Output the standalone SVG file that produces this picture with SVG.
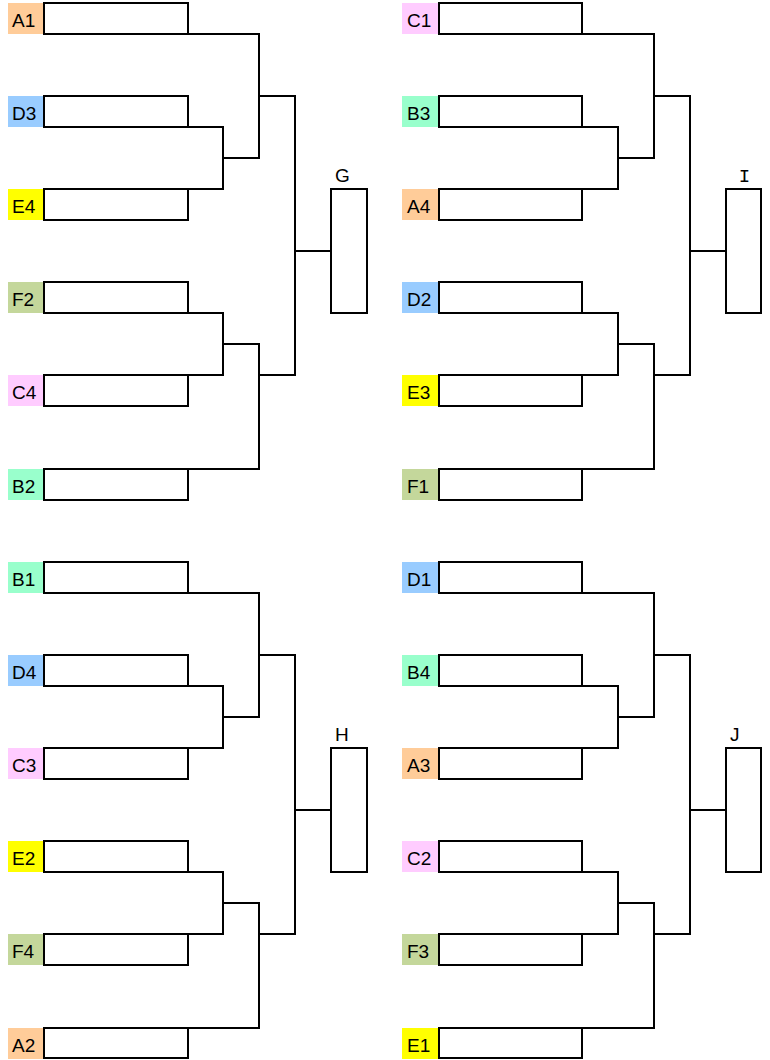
<svg xmlns="http://www.w3.org/2000/svg" width="770" height="1060" viewBox="0 0 770 1060">
<style>
.bg{fill:#fff}
.lbl{font-family:"Liberation Sans",Arial,sans-serif;font-size:19px;fill:#000}
.slot{fill:#fff;stroke:#000;stroke-width:2}
.c{fill:none;stroke:#000;stroke-width:2}
.A{fill:#FFCC99}.B{fill:#99FFCC}.C{fill:#FFCCFF}.D{fill:#99CCFF}.E{fill:#FFFF00}.F{fill:#C4D79B}
</style>
<defs>
<g id="conn">
<path class="c" d="M188,34 H259 V158 H223"/>
<path class="c" d="M188,127 H223 V189 H188"/>
<path class="c" d="M259,96 H295 V375 H259"/>
<path class="c" d="M188,313 H223 V375 H188"/>
<path class="c" d="M223,344 H259 V469 H188"/>
<path class="c" d="M295,251 H331"/>
</g>
</defs>
<rect class="bg" x="0" y="0" width="770" height="1060"/>

<g id="connectors">
<use href="#conn"/>
<use href="#conn" transform="translate(395,0)"/>
<use href="#conn" transform="translate(0,559)"/>
<use href="#conn" transform="translate(395,559)"/>
</g>

<!-- top-left -->
<g id="A1" transform="translate(0,3)"><rect class="A" x="8" y="0" width="35" height="31"/><rect class="slot" x="44" y="0" width="144" height="31"/><text class="lbl" x="12" y="24">A1</text></g>
<g id="D3" transform="translate(0,96)"><rect class="D" x="8" y="0" width="35" height="31"/><rect class="slot" x="44" y="0" width="144" height="31"/><text class="lbl" x="12" y="24">D3</text></g>
<g id="E4" transform="translate(0,189)"><rect class="E" x="8" y="0" width="35" height="31"/><rect class="slot" x="44" y="0" width="144" height="31"/><text class="lbl" x="12" y="24">E4</text></g>
<g id="F2" transform="translate(0,282)"><rect class="F" x="8" y="0" width="35" height="31"/><rect class="slot" x="44" y="0" width="144" height="31"/><text class="lbl" x="12" y="24">F2</text></g>
<g id="C4" transform="translate(0,375)"><rect class="C" x="8" y="0" width="35" height="31"/><rect class="slot" x="44" y="0" width="144" height="31"/><text class="lbl" x="12" y="24">C4</text></g>
<g id="B2" transform="translate(0,469)"><rect class="B" x="8" y="0" width="35" height="31"/><rect class="slot" x="44" y="0" width="144" height="31"/><text class="lbl" x="12" y="24">B2</text></g>
<g id="G"><rect class="slot" x="331" y="189" width="36" height="124"/><text class="lbl" x="335" y="182">G</text></g>

<!-- top-right -->
<g id="C1" transform="translate(395,3)"><rect class="C" x="7" y="0" width="36" height="31"/><rect class="slot" x="44" y="0" width="143" height="31"/><text class="lbl" x="12" y="24">C1</text></g>
<g id="B3" transform="translate(395,96)"><rect class="B" x="7" y="0" width="36" height="31"/><rect class="slot" x="44" y="0" width="143" height="31"/><text class="lbl" x="12" y="24">B3</text></g>
<g id="A4" transform="translate(395,189)"><rect class="A" x="7" y="0" width="36" height="31"/><rect class="slot" x="44" y="0" width="143" height="31"/><text class="lbl" x="12" y="24">A4</text></g>
<g id="D2" transform="translate(395,282)"><rect class="D" x="7" y="0" width="36" height="31"/><rect class="slot" x="44" y="0" width="143" height="31"/><text class="lbl" x="12" y="24">D2</text></g>
<g id="E3" transform="translate(395,375)"><rect class="E" x="7" y="0" width="36" height="31"/><rect class="slot" x="44" y="0" width="143" height="31"/><text class="lbl" x="12" y="24">E3</text></g>
<g id="F1" transform="translate(395,469)"><rect class="F" x="7" y="0" width="36" height="31"/><rect class="slot" x="44" y="0" width="143" height="31"/><text class="lbl" x="12" y="24">F1</text></g>
<g id="I"><rect class="slot" x="726" y="189" width="35" height="124"/><text x="744.5" y="182" text-anchor="middle" style="font-family:'Liberation Mono',monospace;font-size:19px">I</text></g>

<!-- bottom-left -->
<g id="B1" transform="translate(0,562)"><rect class="B" x="8" y="0" width="35" height="31"/><rect class="slot" x="44" y="0" width="144" height="31"/><text class="lbl" x="12" y="24">B1</text></g>
<g id="D4" transform="translate(0,655)"><rect class="D" x="8" y="0" width="35" height="31"/><rect class="slot" x="44" y="0" width="144" height="31"/><text class="lbl" x="12" y="24">D4</text></g>
<g id="C3" transform="translate(0,748)"><rect class="C" x="8" y="0" width="35" height="31"/><rect class="slot" x="44" y="0" width="144" height="31"/><text class="lbl" x="12" y="24">C3</text></g>
<g id="E2" transform="translate(0,841)"><rect class="E" x="8" y="0" width="35" height="31"/><rect class="slot" x="44" y="0" width="144" height="31"/><text class="lbl" x="12" y="24">E2</text></g>
<g id="F4" transform="translate(0,934)"><rect class="F" x="8" y="0" width="35" height="31"/><rect class="slot" x="44" y="0" width="144" height="31"/><text class="lbl" x="12" y="24">F4</text></g>
<g id="A2" transform="translate(0,1028)"><rect class="A" x="8" y="0" width="35" height="31"/><rect class="slot" x="44" y="0" width="144" height="30"/><text class="lbl" x="12" y="24">A2</text></g>
<g id="H"><rect class="slot" x="331" y="748" width="36" height="124"/><text class="lbl" x="335" y="741">H</text></g>

<!-- bottom-right -->
<g id="D1" transform="translate(395,562)"><rect class="D" x="7" y="0" width="36" height="31"/><rect class="slot" x="44" y="0" width="143" height="31"/><text class="lbl" x="12" y="24">D1</text></g>
<g id="B4" transform="translate(395,655)"><rect class="B" x="7" y="0" width="36" height="31"/><rect class="slot" x="44" y="0" width="143" height="31"/><text class="lbl" x="12" y="24">B4</text></g>
<g id="A3" transform="translate(395,748)"><rect class="A" x="7" y="0" width="36" height="31"/><rect class="slot" x="44" y="0" width="143" height="31"/><text class="lbl" x="12" y="24">A3</text></g>
<g id="C2" transform="translate(395,841)"><rect class="C" x="7" y="0" width="36" height="31"/><rect class="slot" x="44" y="0" width="143" height="31"/><text class="lbl" x="12" y="24">C2</text></g>
<g id="F3" transform="translate(395,934)"><rect class="F" x="7" y="0" width="36" height="31"/><rect class="slot" x="44" y="0" width="143" height="31"/><text class="lbl" x="12" y="24">F3</text></g>
<g id="E1" transform="translate(395,1028)"><rect class="E" x="7" y="0" width="36" height="31"/><rect class="slot" x="44" y="0" width="143" height="30"/><text class="lbl" x="12" y="24">E1</text></g>
<g id="J"><rect class="slot" x="726" y="748" width="35" height="124"/><text class="lbl" x="730" y="741">J</text></g>
</svg>
